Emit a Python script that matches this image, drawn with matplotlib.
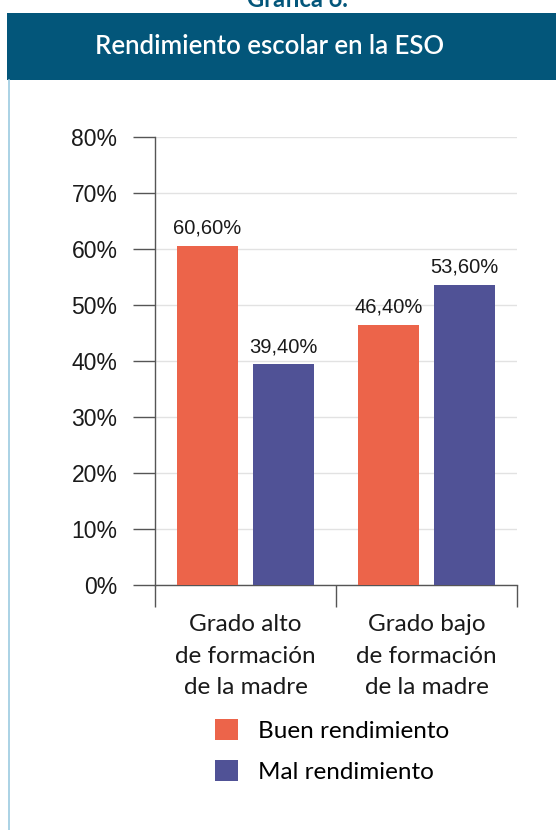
import numpy as np
import matplotlib
matplotlib.use('Agg')
from matplotlib import pyplot as plt
from matplotlib.patches import Rectangle
from matplotlib.lines import Line2D

categorias = ['Grado alto\nde formación\nde la madre', 'Grado bajo\nde formación\nde la madre']
buen = [60.6, 46.4]
mal = [39.4, 53.6]
series = ['Buen rendimiento', 'Mal rendimiento']
colores = ['#EC644A', '#505296']
yticks = [0, 10, 20, 30, 40, 50, 60, 70, 80]

W, H = 556, 830
fig = plt.figure(figsize=(W / 100, H / 100), dpi=100)

# cabecera y marco
fig.patches.append(Rectangle((7 / W, 1 - 80 / H), 1, 67 / H, transform=fig.transFigure,
                             facecolor='#03567A', edgecolor='none', zorder=0))
fig.lines.append(Line2D([8.5 / W, 8.5 / W], [0, 1 - 80 / H], transform=fig.transFigure,
                        color='#9CCBE0', lw=1.2))
fig.text(297 / W, 1 - 7 / H, 'Gráfica 6.', ha='center', va='baseline', color='#03567A',
         fontsize=17, fontweight='bold', family='Lato')
fig.text(270 / W, 1 - 47 / H, 'Rendimiento escolar en la ESO', ha='center', va='center',
         color='white', fontsize=18.5, family='Lato', fontweight='semibold')

ax = fig.add_axes([155 / W, 1 - 585 / H, (517 - 155) / W, (585 - 137) / H])
x = np.array([0.5, 1.5])
off = 0.21
wd = 0.335
b1 = ax.bar(x - off, buen, wd, color=colores[0], label=series[0], zorder=3)
b2 = ax.bar(x + off, mal, wd, color=colores[1], label=series[1], zorder=3)
for bars in (b1, b2):
    for r in bars:
        v = r.get_height()
        ax.annotate('{:.2f}%'.format(v).replace('.', ','), (r.get_x() + r.get_width() / 2, v),
                    xytext=(0, 6), textcoords='offset points', ha='center', va='bottom',
                    fontsize=14.5, family='Liberation Sans', color='#1a1a1a')

ax.set_xlim(0, 2)
ax.set_ylim(0, 80)
ax.set_yticks(yticks)
ax.set_yticklabels(['{}%'.format(t) for t in yticks], family='Liberation Sans', fontsize=16.5,
                   color='#1a1a1a')
ax.tick_params(axis='y', length=16, width=1, color='#555555', pad=11)
ax.set_xticks(x)
ax.set_xticklabels(categorias, family='Lato', fontsize=17.5, linespacing=1.62, color='#1a1a1a')
ax.set_xticks([0, 1, 2], minor=True)
ax.tick_params(axis='x', which='major', length=0, pad=21)
ax.tick_params(axis='x', which='minor', length=16, width=1, color='#555555')
ax.grid(axis='y', color='#e2e2e2', lw=1, zorder=0)
for s in ['top', 'right']:
    ax.spines[s].set_visible(False)
for s in ['left', 'bottom']:
    ax.spines[s].set_color('#555555')
    ax.spines[s].set_linewidth(1)

leg = fig.legend(handles=[b1, b2], labels=series, loc='center', bbox_to_anchor=(332 / W, 1 - 751 / H),
                 frameon=False, prop={'family': 'Lato', 'size': 17.5}, handlelength=0.95, handleheight=0.95,
                 labelspacing=0.75, handletextpad=0.8)

fig.savefig('out.png', dpi=100, facecolor='white')
